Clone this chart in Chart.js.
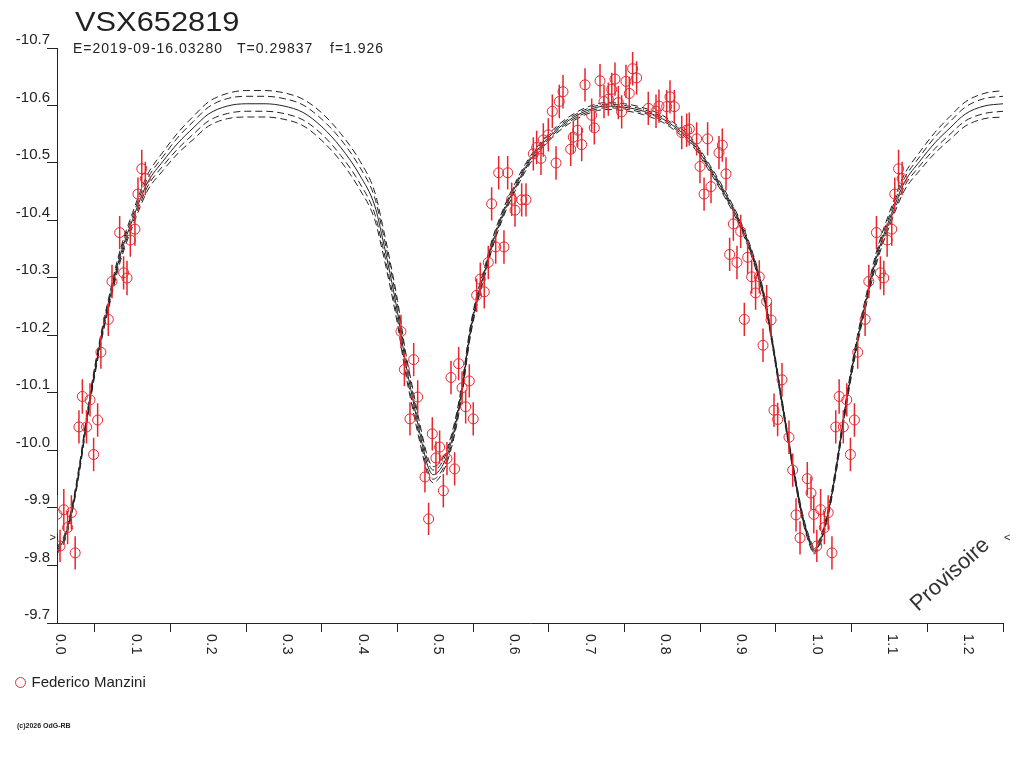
<!DOCTYPE html>
<html><head><meta charset="utf-8">
<script src="https://cdn.jsdelivr.net/npm/chart.js@4.4.1/dist/chart.umd.min.js"></script>
<style>html,body{margin:0;padding:0;background:#fff;} #wrap{width:1024px;height:768px;position:relative;}</style>
</head><body><div id="wrap"><canvas id="c" width="1024" height="768"></canvas></div>
<script>
// ---- texts ----
const starName = 'VSX652819';
const epochText = 'E=2019-09-16.03280';
const periodText = 'T=0.29837';
const freqText = 'f=1.926';
const observerName = 'Federico Manzini';
const watermarkText = 'Provisoire';
const footerText = '(c)2026 OdG-RB';

// ---- observations (phase 0..1) ----
const obsPhase = [0.000,0.009,0.019,0.014,0.004,0.024,0.029,0.039,0.0335,0.0436,0.0484,0.0537,0.058,0.0678,0.0727,0.088,0.0925,0.0828,0.0969,0.103,0.107,0.112,0.1167,
0.4545,0.459,0.4713,0.4766,0.4664,0.4862,0.491,0.4959,0.5007,0.5056,0.5105,0.5153,0.5254,0.5206,0.5307,0.5352,0.5448,0.540,0.550,
0.5545,0.5593,0.5646,0.5699,0.5743,0.5797,0.5836,0.5906,0.5955,0.6008,0.6052,0.614,0.6197,0.6294,0.6338,0.6395,0.6426,0.6492,0.6545,0.6594,0.6637,0.6686,
0.6788,0.6822,0.688,0.6933,0.6977,0.7065,0.710,0.7175,0.7228,0.7285,0.733,0.7373,0.7417,0.7461,0.7518,0.7562,0.7606,0.7659,
0.7813,0.7915,0.7954,0.8056,0.81,0.8157,0.8255,0.832,0.8355,0.8452,0.8597,0.8791,0.8747,0.8496,0.884,0.8642,0.855,
0.8937,0.9034,0.8888,0.8985,0.9126,0.9179,0.928,0.9231,0.9377,0.9435,0.9082,0.9329,0.958,0.9474,0.9522,0.9672,0.9721,0.9914,0.9963,0.9765,0.9818];
const obsMag = [-9.889,-9.897,-9.892,-9.866,-9.834,-9.822,-10.041,-10.041,-10.094,-10.088,-9.993,-10.053,-10.171,-10.228,-10.294,-10.309,-10.300,-10.379,-10.366,-10.385,-10.446,-10.490,-10.473,
-10.207,-10.141,-10.158,-10.093,-10.055,-9.954,-9.881,-10.029,-9.987,-10.006,-9.930,-9.986,-9.968,-10.127,-10.151,-10.109,-10.121,-10.076,-10.055,
-10.270,-10.298,-10.276,-10.327,-10.429,-10.354,-10.483,-10.354,-10.483,-10.437,-10.418,-10.436,-10.436,-10.516,-10.527,-10.508,-10.540,-10.549,-10.590,-10.500,-10.607,-10.624,
-10.524,-10.545,-10.557,-10.532,-10.636,-10.583,-10.561,-10.643,-10.607,-10.611,-10.628,-10.646,-10.605,-10.589,-10.642,-10.621,-10.664,-10.648,
-10.595,-10.590,-10.599,-10.598,-10.615,-10.598,-10.553,-10.557,-10.559,-10.542,-10.542,-10.531,-10.518,-10.494,-10.481,-10.459,-10.446,
-10.394,-10.381,-10.341,-10.327,-10.336,-10.302,-10.302,-10.274,-10.259,-10.227,-10.228,-10.183,-10.123,-10.070,-10.054,-10.023,-9.966,-9.951,-9.926,-9.888,-9.848];
const obsErr = [0.033,0.036,0.030,0.029,0.028,0.029,0.029,0.029,0.030,0.029,0.029,0.029,0.029,0.029,0.029,0.029,0.030,0.029,0.029,0.029,0.029,0.033,0.029,
0.029,0.029,0.029,0.029,0.029,0.027,0.028,0.029,0.029,0.029,0.029,0.029,0.029,0.029,0.029,0.029,0.029,0.029,0.029,
0.029,0.029,0.029,0.029,0.029,0.029,0.029,0.029,0.029,0.029,0.029,0.029,0.029,0.029,0.029,0.029,0.029,0.029,0.029,0.029,0.029,0.029,
0.029,0.029,0.029,0.029,0.029,0.029,0.029,0.029,0.029,0.029,0.029,0.029,0.029,0.029,0.029,0.029,0.029,0.029,
0.029,0.029,0.029,0.029,0.029,0.029,0.029,0.029,0.029,0.029,0.029,0.029,0.029,0.029,0.029,0.029,0.029,
0.029,0.029,0.029,0.029,0.029,0.029,0.029,0.029,0.029,0.029,0.029,0.029,0.029,0.029,0.029,0.029,0.029,0.029,0.029,0.029,0.029];

// ---- fitted light curve (phase 0..1) and its uncertainty bands ----
const fitPhase = [0,0.01,0.02,0.03,0.04,0.05,0.06,0.07,0.08,0.09,0.10,0.11,0.12,0.14,0.16,0.18,0.20,0.225,0.25,0.275,0.30,0.325,0.35,0.375,0.40,0.42,0.43,0.44,0.45,0.46,0.47,0.48,0.49,0.497,0.505,0.515,0.525,0.535,0.545,0.555,0.565,0.575,0.59,0.60,0.625,0.65,0.675,0.70,0.725,0.75,0.775,0.80,0.82,0.84,0.86,0.88,0.90,0.92,0.935,0.945,0.955,0.965,0.975,0.985,0.995,1.0];
const fitMag = [-9.826,-9.848,-9.898,-9.972,-10.060,-10.139,-10.207,-10.266,-10.322,-10.366,-10.402,-10.437,-10.467,-10.503,-10.535,-10.561,-10.585,-10.599,-10.603,-10.603,-10.599,-10.588,-10.563,-10.527,-10.479,-10.425,-10.370,-10.308,-10.240,-10.157,-10.090,-10.027,-9.973,-9.958,-9.965,-9.990,-10.036,-10.105,-10.198,-10.263,-10.310,-10.359,-10.414,-10.444,-10.505,-10.545,-10.573,-10.591,-10.599,-10.597,-10.590,-10.577,-10.559,-10.535,-10.496,-10.452,-10.402,-10.335,-10.263,-10.190,-10.108,-10.028,-9.953,-9.885,-9.840,-9.826];
const bandInner = [0.003,0.003,0.003,0.003,0.004,0.004,0.004,0.005,0.005,0.006,0.006,0.007,0.007,0.008,0.010,0.011,0.012,0.013,0.013,0.013,0.013,0.013,0.013,0.014,0.014,0.014,0.013,0.013,0.012,0.011,0.010,0.009,0.008,0.008,0.007,0.007,0.006,0.006,0.005,0.005,0.004,0.004,0.004,0.004,0.003,0.003,0.003,0.003,0.003,0.003,0.003,0.003,0.003,0.003,0.003,0.003,0.003,0.003,0.003,0.003,0.003,0.003,0.003,0.003,0.003,0.003];
const bandOuter = [0.006,0.006,0.006,0.007,0.007,0.008,0.008,0.009,0.010,0.011,0.012,0.013,0.014,0.016,0.018,0.020,0.021,0.022,0.023,0.023,0.023,0.023,0.024,0.024,0.025,0.024,0.023,0.022,0.021,0.019,0.018,0.016,0.015,0.014,0.013,0.012,0.011,0.010,0.009,0.009,0.008,0.008,0.007,0.007,0.006,0.006,0.006,0.006,0.006,0.006,0.006,0.006,0.006,0.006,0.006,0.006,0.006,0.006,0.006,0.006,0.006,0.006,0.006,0.006,0.006,0.006];

// ---- axes ----
const xTickValues = [0.0,0.1,0.2,0.3,0.4,0.5,0.6,0.7,0.8,0.9,1.0,1.1,1.2];
const xTickLabels = ['0.0','0.1','0.2','0.3','0.4','0.5','0.6','0.7','0.8','0.9','1.0','1.1','1.2'];
const xMin = 0, xMax = 1.25, xStep = 0.05;
const yMin = -10.7, yMax = -9.7, yStep = 0.1;
const minMarkerMag = -9.848;
const repeatUpTo = 0.25;

// ---- build datasets ----
const obsPts = [];
obsPhase.forEach((p, i) => {
  obsPts.push({x: p, y: obsMag[i], e: obsErr[i]});
  if (p <= repeatUpTo) obsPts.push({x: p + 1, y: obsMag[i], e: obsErr[i]});
});
const errPts = [];
obsPts.forEach(o => { errPts.push({x: o.x, y: o.y - o.e}); errPts.push({x: o.x, y: o.y + o.e}); errPts.push({x: o.x, y: null}); });

function curve(sign, band) {
  const pts = [];
  fitPhase.forEach((p, i) => pts.push({x: p, y: fitMag[i] + (band ? sign * band[i] : 0)}));
  fitPhase.forEach((p, i) => { if (p > 0 && p <= repeatUpTo) pts.push({x: p + 1, y: fitMag[i] + (band ? sign * band[i] : 0)}); });
  return pts;
}

const RED = '#e8262d';
const INK = '#222222';
const dash = [7, 4];
function lineDs(label, data, dashed) {
  return {label, data, showLine: true, borderColor: INK, borderWidth: 1, borderDash: dashed ? dash : [],
    pointRadius: 0, pointHoverRadius: 0, cubicInterpolationMode: 'monotone', fill: false, order: 3};
}

const textPlugin = {
  id: 'texts',
  afterDraw(chart) {
    const ctx = chart.ctx;
    const xs = chart.scales.x, ys = chart.scales.y;
    ctx.save();
    ctx.fillStyle = INK;
    // title
    ctx.save();
    ctx.font = "28px 'Liberation Sans', Arial, sans-serif";
    ctx.textBaseline = 'alphabetic';
    ctx.translate(75, 31);
    ctx.scale(1.1, 1);
    ctx.fillText(starName, 0, 0);
    ctx.restore();
    // subtitle
    ctx.font = "14px 'Liberation Sans', Arial, sans-serif";
    ctx.letterSpacing = '1px';
    ctx.textBaseline = 'alphabetic';
    ctx.fillText(epochText, 73, 53);
    ctx.fillText(periodText, 237, 53);
    ctx.fillText(freqText, 330, 53);
    // x tick labels, rotated clockwise
    ctx.font = "14px 'Liberation Sans', Arial, sans-serif";
    ctx.letterSpacing = '0.5px';
    xTickValues.forEach((v, i) => {
      const px = xs.getPixelForValue(v);
      ctx.save();
      ctx.translate(px - 1, xs.top + 11);
      ctx.rotate(Math.PI / 2);
      ctx.textAlign = 'left';
      ctx.textBaseline = 'alphabetic';
      ctx.fillText(xTickLabels[i], 0, 0);
      ctx.restore();
    });
    ctx.letterSpacing = '0px';
    // minimum markers
    ctx.font = "11px 'Liberation Sans', Arial, sans-serif";
    ctx.textBaseline = 'middle';
    const my = ys.getPixelForValue(minMarkerMag);
    ctx.textAlign = 'right';
    ctx.fillText('>', xs.left - 1, my);
    ctx.textAlign = 'left';
    ctx.fillText('<', xs.right + 1, my);
    // watermark
    ctx.save();
    ctx.fillStyle = '#333333';
    ctx.font = "22px 'Liberation Sans', Arial, sans-serif";
    ctx.textAlign = 'left';
    ctx.textBaseline = 'alphabetic';
    ctx.translate(918, 612);
    ctx.rotate(-42 * Math.PI / 180);
    ctx.fillText(watermarkText, 0, 0);
    ctx.restore();
    // footer
    ctx.font = "bold 7px 'Liberation Sans', Arial, sans-serif";
    ctx.textAlign = 'left';
    ctx.textBaseline = 'alphabetic';
    ctx.fillText(footerText, 17, 728);
    ctx.restore();
  }
};

Chart.defaults.font.family = "'Liberation Sans', Arial, sans-serif";
Chart.defaults.color = INK;

new Chart(document.getElementById('c'), {
  type: 'scatter',
  data: {
    datasets: [
      {label: observerName, data: obsPts, showLine: false, pointStyle: 'circle', pointRadius: 5, pointHoverRadius: 5,
        borderColor: RED, backgroundColor: 'rgba(0,0,0,0)', pointBorderWidth: 1, borderWidth: 1, order: 0},
      {label: 'errors', data: errPts, showLine: true, spanGaps: false, borderColor: RED, borderWidth: 1.5, pointRadius: 0, pointHoverRadius: 0, order: 1},
      lineDs('fit', curve(0, null), false),
      lineDs('fit+1', curve(-1, bandInner), true),
      lineDs('fit-1', curve(1, bandInner), true),
      lineDs('fit+2', curve(-1, bandOuter), true),
      lineDs('fit-2', curve(1, bandOuter), true)
    ]
  },
  options: {
    responsive: false,
    devicePixelRatio: 1,
    animation: false,
    events: [],
    layout: {padding: {left: 0, right: 21, top: 48, bottom: 68}},
    plugins: {
      title: {display: false},
      tooltip: {enabled: false},
      legend: {
        display: true, position: 'bottom', align: 'start',
        labels: {
          usePointStyle: true, boxWidth: 7, boxHeight: 7, padding: 17,
          font: {size: 15}, color: INK,
          filter: (item) => item.text === observerName
        }
      }
    },
    scales: {
      x: {
        type: 'linear', min: xMin, max: xMax,
        afterFit(s) { s.height = 35; },
        ticks: {display: false, stepSize: xStep},
        grid: {drawOnChartArea: false, drawTicks: true, tickLength: 9, tickWidth: 1,
          tickColor: (c) => (c.tick && Math.round(c.tick.value / xStep) % 2 === 1) ? INK : 'rgba(0,0,0,0)'},
        border: {display: true, color: INK, width: 1}
      },
      y: {
        type: 'linear', min: yMin, max: yMax, reverse: true,
        afterFit(s) { s.width = 57; },
        ticks: {stepSize: yStep, font: {size: 15}, color: INK, padding: -3, labelOffset: -8,
          callback: (v) => Number(v).toFixed(1)},
        grid: {drawOnChartArea: false, drawTicks: true, tickLength: 10, color: INK},
        border: {display: true, color: INK, width: 1}
      }
    }
  },
  plugins: [textPlugin]
});
</script></body></html>
